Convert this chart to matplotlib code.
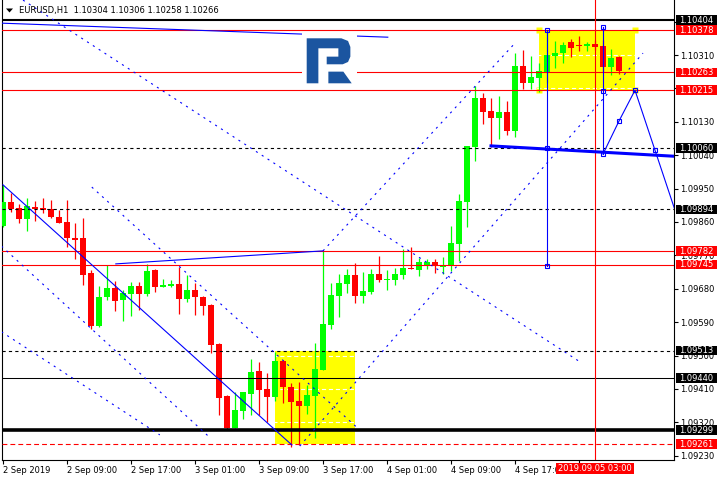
import numpy as np
import matplotlib
matplotlib.use("Agg")
import matplotlib.pyplot as plt
from matplotlib.patches import Rectangle, Polygon

plt.rcParams['font.family'] = 'DejaVu Sans'
plt.rcParams['lines.scale_dashes'] = False

# EURUSD H1, bar 0 = 2 Sep 2019 01:00
opens = [1.09850, 1.09913, 1.09898, 1.09869, 1.09900, 1.09898, 1.09894, 1.09873, 1.09861, 1.09818,
         1.09817, 1.09722, 1.09580, 1.09659, 1.09683, 1.09650, 1.09667, 1.09687, 1.09667, 1.09731,
         1.09686, 1.09688, 1.09693, 1.09653, 1.09677, 1.09657, 1.09636, 1.09531, 1.09391, 1.09304,
         1.09351, 1.09397, 1.09458, 1.09410, 1.09388, 1.09485, 1.09415, 1.09378, 1.09365, 1.09392,
         1.09461, 1.09582, 1.09661, 1.09693, 1.09717, 1.09661, 1.09672, 1.09720, 1.09704, 1.09704,
         1.09717, 1.09737, 1.09731, 1.09744, 1.09752, 1.09739, 1.09744, 1.09801, 1.09915, 1.10063,
         1.10194, 1.10159, 1.10141, 1.10156, 1.10106, 1.10280, 1.10235, 1.10249, 1.10265, 1.10307,
         1.10315, 1.10344, 1.10335, 1.10333, 1.10339, 1.10334, 1.10278, 1.10304]
highs = [1.09960, 1.09939, 1.09909, 1.09925, 1.09916, 1.09925, 1.09919, 1.09892, 1.09919, 1.09858,
         1.09870, 1.09731, 1.09687, 1.09744, 1.09701, 1.09677, 1.09698, 1.09698, 1.09747, 1.09733,
         1.09707, 1.09704, 1.09739, 1.09716, 1.09696, 1.09660, 1.09639, 1.09533, 1.09393, 1.09402,
         1.09402, 1.09490, 1.09483, 1.09452, 1.09510, 1.09487, 1.09426, 1.09429, 1.09421, 1.09534,
         1.09782, 1.09696, 1.09719, 1.09732, 1.09750, 1.09726, 1.09732, 1.09769, 1.09731, 1.09735,
         1.09787, 1.09793, 1.09762, 1.09759, 1.09760, 1.09765, 1.09850, 1.09935, 1.10065, 1.10226,
         1.10207, 1.10195, 1.10200, 1.10186, 1.10316, 1.10323, 1.10307, 1.10289, 1.10375, 1.10348,
         1.10344, 1.10353, 1.10361, 1.10345, 1.10350, 1.10350, 1.10325, 1.10306]
lows = [1.09846, 1.09888, 1.09858, 1.09836, 1.09863, 1.09885, 1.09871, 1.09858, 1.09793, 1.09759,
        1.09690, 1.09572, 1.09577, 1.09650, 1.09621, 1.09594, 1.09607, 1.09624, 1.09660, 1.09672,
        1.09686, 1.09686, 1.09613, 1.09645, 1.09610, 1.09610, 1.09508, 1.09340, 1.09299, 1.09304,
        1.09329, 1.09340, 1.09340, 1.09322, 1.09377, 1.09373, 1.09254, 1.09259, 1.09342, 1.09277,
        1.09461, 1.09572, 1.09605, 1.09669, 1.09641, 1.09641, 1.09665, 1.09699, 1.09677, 1.09690,
        1.09705, 1.09734, 1.09714, 1.09732, 1.09723, 1.09721, 1.09729, 1.09755, 1.09847, 1.10025,
        1.10124, 1.10063, 1.10083, 1.10094, 1.10089, 1.10218, 1.10218, 1.10211, 1.10235, 1.10274,
        1.10289, 1.10305, 1.10321, 1.10321, 1.10323, 1.10264, 1.10256, 1.10258]
closes = [1.09913, 1.09895, 1.09869, 1.09903, 1.09895, 1.09893, 1.09872, 1.09858, 1.09818, 1.09812,
          1.09718, 1.09580, 1.09658, 1.09682, 1.09648, 1.09668, 1.09687, 1.09667, 1.09728, 1.09686,
          1.09690, 1.09693, 1.09653, 1.09677, 1.09657, 1.09634, 1.09529, 1.09386, 1.09304, 1.09353,
          1.09402, 1.09456, 1.09407, 1.09389, 1.09485, 1.09416, 1.09376, 1.09365, 1.09394, 1.09464,
          1.09585, 1.09663, 1.09696, 1.09717, 1.09661, 1.09674, 1.09720, 1.09704, 1.09706, 1.09720,
          1.09737, 1.09734, 1.09751, 1.09751, 1.09743, 1.09745, 1.09803, 1.09917, 1.10065, 1.10194,
          1.10157, 1.10141, 1.10156, 1.10106, 1.10280, 1.10235, 1.10251, 1.10267, 1.10310, 1.10315,
          1.10337, 1.10330, 1.10333, 1.10340, 1.10332, 1.10278, 1.10301, 1.10266]

xtick_pos = [0, 8, 16, 24, 32, 40, 48, 56, 64, 72]
# the 5 Sep 01:00 label sits under the red time box, so it is left empty
xtick_labels = ['2 Sep 2019', '2 Sep 09:00', '2 Sep 17:00', '3 Sep 01:00', '3 Sep 09:00',
                '3 Sep 17:00', '4 Sep 01:00', '4 Sep 09:00', '4 Sep 17:00', '']
ytick_vals = [1.09230, 1.09320, 1.09410, 1.09500, 1.09590, 1.09680, 1.09770,
              1.09860, 1.09950, 1.10040, 1.10130, 1.10220, 1.10310, 1.10400]
ytick_hidden = [1.10220, 1.10400]  # fully covered by the level boxes

# horizontal levels
black_levels = [1.10404, 1.09440, 1.09299]
black_widths = [1.5, 0.75, 2.6]
black_dash_levels = [1.10060, 1.09894, 1.09513]
red_levels = [1.10378, 1.10263, 1.10215, 1.09782, 1.09745]
red_dash_levels = [1.09261]

# rectangles (bar index from/to, price from/to)
box1_x = [34, 44]
box1_y = [1.09261, 1.09513]
box2_x = [67, 79]
box2_y = [1.10215, 1.10378]

# solid trend lines
line_a_x, line_a_y = [0, 36.1], [1.09960, 1.09259]
line_b_x, line_b_y = [-0.4, 48.1], [1.10396, 1.10358]
line_c_x, line_c_y = [14.1, 40], [1.09747, 1.09782]
line_d_x, line_d_y = [61, 84], [1.10065, 1.10037]
vert_e_x, vert_e_y = [68, 68], [1.10377, 1.09741]
vert_f_x, vert_f_y = [75, 75], [1.10385, 1.10042]
zigzag_x, zigzag_y = [75, 77, 79, 85], [1.10043, 1.10132, 1.10215, 1.09827]
marks_x = [68, 68, 68, 75, 75, 75, 77, 79, 81.5]
marks_y = [1.10377, 1.09741, 1.10060, 1.10385, 1.10213, 1.10043, 1.10132, 1.10215, 1.10054]

# dotted channel lines
dash_lines_x = [[2.5, 71.9], [11.1, 44.25], [-0.2, 25.9], [-0.2, 19.6], [37.1, 80], [40, 64]]
dash_lines_y = [[1.10458, 1.09486], [1.09954, 1.09306], [1.09795, 1.09278],
                [1.09564, 1.09286], [1.09256, 1.10315], [1.09782, 1.10342]]

W, H = 720, 480
fig = plt.figure(figsize=(7.2, 4.8), dpi=100)
ax = fig.add_axes([2 / W, 20 / H, 672 / W, 460 / H])
ax.set_xlim(-0.125, 83.875)
ax.set_ylim(1.0921836, 1.1045825)
ax.set_axisbelow(True)

BLUE = '#0000ff'
# yellow boxes in the background
for bx, by in [(box1_x, box1_y), (box2_x, box2_y)]:
    ax.add_patch(Rectangle((bx[0], by[0]), bx[1] - bx[0], by[1] - by[0],
                           fc='#ffff00', ec='none', zorder=0.2))
ax.plot([box2_x[0], box2_x[1], box2_x[0], box2_x[1]],
        [box2_y[0], box2_y[0], box2_y[1], box2_y[1]], 's', ms=4.5,
        color='#ffff00', mec='none', zorder=0.2)

# grid (white, only visible on the yellow boxes)
ax.set_yticks(ytick_vals)
ax.grid(axis='y', color='white', lw=0.8, dashes=(3, 2))

# candles
o = np.array(opens)
c = np.array(closes)
idx = np.arange(len(o))
cols = np.where(c >= o, '#00ff00', '#ff0000')
ax.vlines(idx, lows, highs, colors=cols, lw=0.9, zorder=3)
bottoms = np.minimum(o, c)
heights = np.maximum(np.abs(c - o), 0.00003)
ax.bar(idx, heights, bottom=bottoms, width=0.66, color=cols, lw=0, zorder=3)

# levels
for lv, lw in zip(black_levels, black_widths):
    ax.axhline(lv, color='black', lw=lw, zorder=4)
for lv in black_dash_levels:
    ax.axhline(lv, color='black', lw=0.8, dashes=(2.3, 2.3), zorder=4)
for lv in red_levels:
    ax.axhline(lv, color='#ff0000', lw=0.8, zorder=4)
for lv in red_dash_levels:
    ax.axhline(lv, color='#ff0000', lw=0.8, dashes=(3.5, 2.2), zorder=4)

# trend lines
for lx, ly in [(line_a_x, line_a_y), (line_b_x, line_b_y), (line_c_x, line_c_y),
               (vert_e_x, vert_e_y), (vert_f_x, vert_f_y), (zigzag_x, zigzag_y)]:
    ax.plot(lx, ly, color=BLUE, lw=0.8, zorder=5)
ax.plot(line_d_x, line_d_y, color=BLUE, lw=2.2, zorder=5)
for lx, ly in zip(dash_lines_x, dash_lines_y):
    ax.plot(lx, ly, color=BLUE, lw=0.8, dashes=(1.5, 3.5), zorder=5)
ax.plot(marks_x, marks_y, 's', ms=3.4, mfc='none', mec=BLUE, mew=0.8, zorder=6)

# current time line
ax.axvline(74, color='#ff0000', lw=0.8, zorder=4)

# axes look
for s in ['left', 'right', 'bottom']:
    ax.spines[s].set_linewidth(0.8)
ax.spines['top'].set_visible(False)
ax.yaxis.tick_right()
ax.set_yticklabels(['' if v in ytick_hidden else f'{v:.5f}' for v in ytick_vals])
ax.set_xticks(xtick_pos)
ax.set_xticklabels(xtick_labels, ha='left')
ax.tick_params(axis='both', labelsize=6, length=3, width=0.8, pad=1.5, colors='black')

# overlay for labels, header and logo (pixel coordinates)
ax2 = fig.add_axes([0, 0, 1, 1], zorder=10)
ax2.set_xlim(0, W)
ax2.set_ylim(H, 0)
ax2.axis('off')


def px(k, p):
    x, y = ax.transData.transform((k, p))
    return x, H - y


for lv in black_levels + black_dash_levels:
    _, y = px(0, lv)
    ax2.add_patch(Rectangle((676, y - 4.75), 41, 9.5, fc='black', ec='none'))
    ax2.text(679.5, y + 0.3, f'{lv:.5f}', color='white', fontsize=6, va='center', ha='left')
for lv in red_levels + red_dash_levels:
    _, y = px(0, lv)
    ax2.add_patch(Rectangle((676, y - 4.75), 41, 9.5, fc='#ff0000', ec='none'))
    ax2.text(679.5, y + 0.3, f'{lv:.5f}', color='white', fontsize=6, va='center', ha='left')

tx, _ = px(74, 1.1)
ax2.add_patch(Rectangle((tx - 39, 463), 78, 11, fc='#ff0000', ec='none'))
ax2.text(tx, 468.7, '2019.09.05 03:00', color='white', fontsize=6, va='center', ha='center')

# header
ax2.add_patch(Polygon([(6, 8.5), (13, 8.5), (9.5, 12.5)], closed=True, fc='black', ec='none'))
ax2.text(19, 10.5, 'EURUSD,H1  1.10304 1.10306 1.10258 1.10266', fontsize=6,
         va='center', ha='left', color='black')

# logo
lx0, ly0 = 306.7, 38.3
ax2.add_patch(Rectangle((302, 31.5), 55, 56.5, fc='white', ec='none'))
body = [(0, 0), (104, 0), (124, 8), (131, 26), (131, 55), (124, 71), (108, 78), (60, 78),
        (60, 55), (95, 55), (95, 30), (35, 30), (35, 135), (0, 135)]
leg = [(65, 100), (110, 100), (135, 135), (65, 135)]
for shape in (body, leg):
    ax2.add_patch(Polygon([(lx0 + a / 3, ly0 + b / 3) for a, b in shape], closed=True,
                          fc='#1b55a0', ec='none'))

fig.savefig('out.png', dpi=100)
